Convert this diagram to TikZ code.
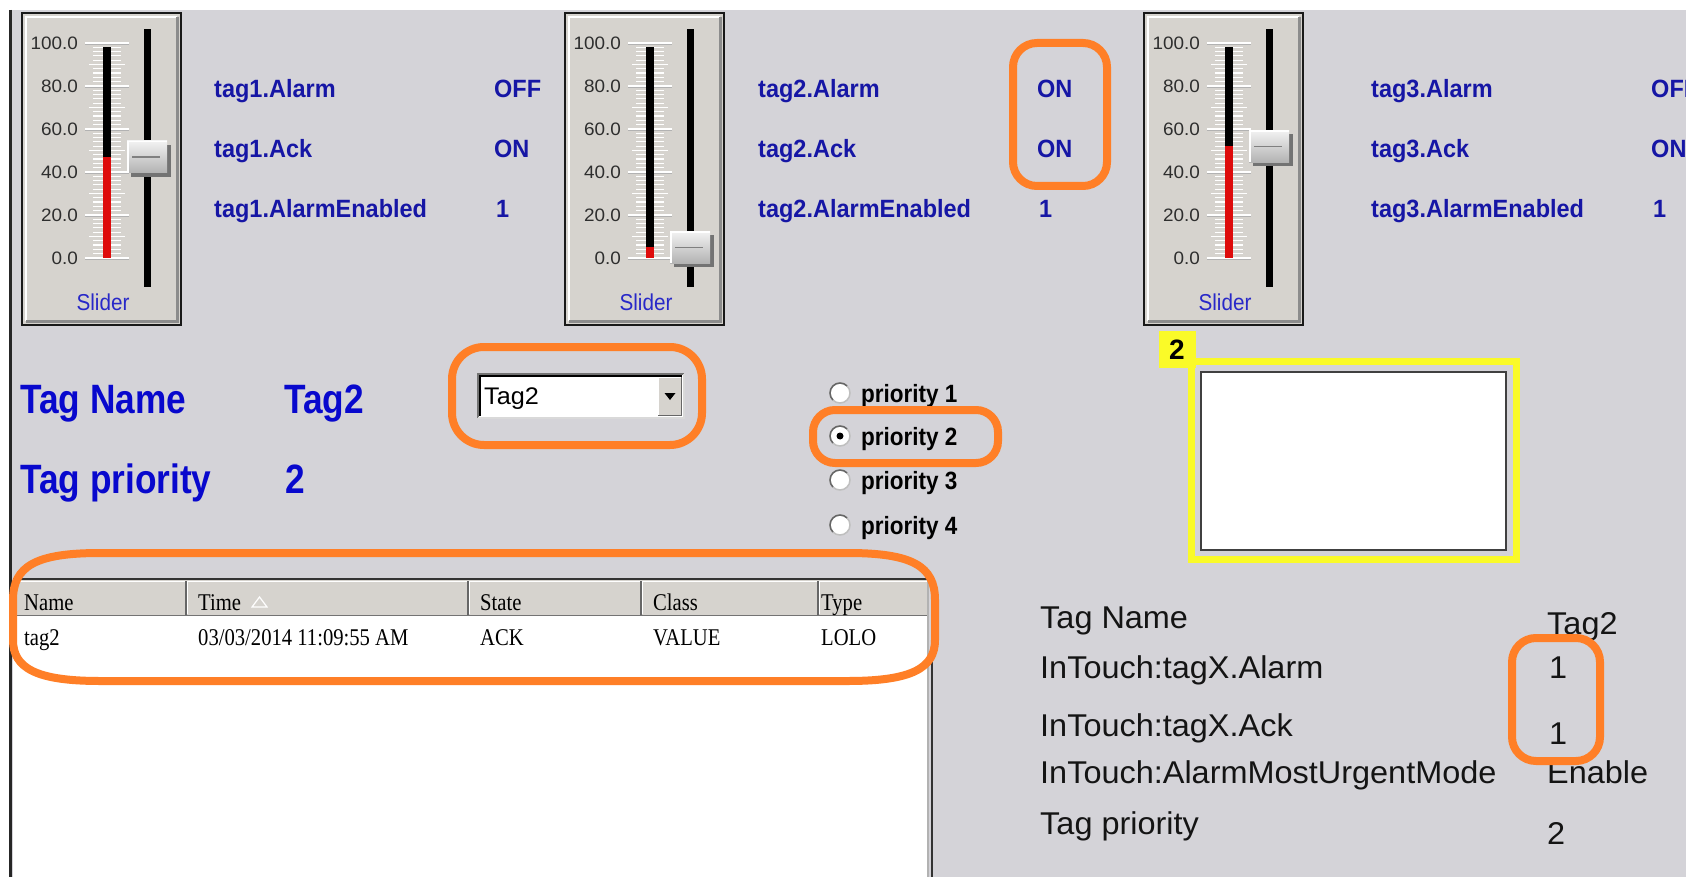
\documentclass[tikz,border=0pt]{standalone}
\usepackage{fontspec}
\setmainfont{Liberation Sans}
\newfontfamily\infofont[FakeStretch=1.03]{Liberation Sans}
\newfontfamily\ticklblfont[FakeStretch=1.05]{Liberation Sans}
\newfontfamily\tagfont[FakeStretch=0.94]{Liberation Sans}
\newfontfamily\narrowfont[FakeStretch=0.9]{Liberation Sans}
\newfontfamily\bignarrowfont[FakeStretch=0.86]{Liberation Sans}
\newfontfamily\alarmfont[FakeStretch=0.86]{Liberation Serif}
\usepackage{tikz}
\definecolor{bggrey}{RGB}{212,211,216}
\definecolor{face}{RGB}{214,211,206}
\definecolor{tagblue}{RGB}{22,22,165}
\definecolor{bigblue}{RGB}{8,8,205}
\definecolor{slidblue}{RGB}{40,40,200}
\definecolor{barred}{RGB}{222,12,12}
\definecolor{hlorange}{RGB}{255,127,39}
\definecolor{hlyellow}{RGB}{250,250,40}
\tikzset{
	taglbl/.style={anchor=west,inner sep=0pt,text=tagblue,text height=18pt,text depth=0pt,font=\tagfont\bfseries\fontsize{25}{30}\selectfont},
	bigtxt/.style={anchor=west,inner sep=0pt,text=bigblue,text height=30pt,text depth=0pt,font=\bignarrowfont\bfseries\fontsize{41}{50}\selectfont},
	ticklbl/.style={anchor=east,inner sep=0pt,text=black!82,text height=13pt,text depth=0pt,font=\ticklblfont\fontsize{18}{22}\selectfont},
	slidlbl/.style={inner sep=0pt,text=slidblue,text height=16.5pt,text depth=0pt,font=\narrowfont\fontsize{23}{28}\selectfont},
	radiotxt/.style={anchor=west,inner sep=0pt,text=black,text height=18pt,text depth=0pt,font=\narrowfont\bfseries\fontsize{25}{30}\selectfont},
	tabtxt/.style={anchor=west,inner sep=0pt,text=black,text height=16pt,text depth=0pt,font=\alarmfont\fontsize{24}{28}\selectfont},
	infotxt/.style={anchor=west,inner sep=0pt,text=black!92,text height=22.5pt,text depth=0pt,font=\infofont\fontsize{31.5}{36}\selectfont},
	hilite/.style={draw=hlorange,line width=8pt,rounded corners=24pt},
}
\begin{document}
\begin{tikzpicture}[x=1pt,y=-1pt]
	\useasboundingbox (0,0) rectangle (1686,877);
	\clip (0,0) rectangle (1686,877);
	\fill[white] (0,0) rectangle (1686,877);
	\fill[bggrey] (12,10) rectangle (1686,877);
	\draw[line width=3pt,black!85] (10.5,10) -- (10.5,877);
	% sliders
	\foreach \bx/\val/\sid in {22/47/a,565/5/b,1144/52/c}{
		\pgfmathsetmacro{\yv}{258-2.15*\val}
		\fill[face] (\bx,13) rectangle (\bx+159,325);
		\draw[white,line width=2pt] (\bx+4,321) -- (\bx+4,17) -- (\bx+155,17);
		\draw[black!45,line width=3pt] (\bx+155,17) -- (\bx+155,321) -- (\bx+4,321);
		\draw[black!90,line width=2.5pt] (\bx,13) rectangle (\bx+159,325);
		\foreach \t in {0,2,...,100}
			\draw[white,line width=1.2pt] (\bx+71,{258-2.15*\t}) -- (\bx+99,{258-2.15*\t});
		\foreach \t in {0,10,...,100}
			\draw[white,line width=1.3pt] (\bx+67,{258-2.15*\t}) -- (\bx+103,{258-2.15*\t});
		\foreach \t in {0,20,...,100}{
			\draw[white,line width=1.6pt] (\bx+63,{258-2.15*\t}) -- (\bx+107,{258-2.15*\t});
			\draw[black!30,line width=0.8pt] (\bx+63,{259.3-2.15*\t}) -- (\bx+107,{259.3-2.15*\t});
			\node[ticklbl] (lbl\sid\t) at (\bx+56,{258-2.15*\t}) {\t.0};
		}
		\fill[black] (\bx+81,47) rectangle (\bx+89,258);
		\fill[barred] (\bx+81,\yv) rectangle (\bx+89,258);
		\fill[black] (\bx+122,29) rectangle (\bx+129,287);
		\fill[black!55] (\bx+109,\yv-12) rectangle (\bx+149,\yv+20);
		\shade[top color=white!95!black,bottom color=black!30] (\bx+105,\yv-16) rectangle (\bx+145,\yv+16);
		\draw[white,line width=1.5pt] (\bx+105.75,\yv+16) -- (\bx+105.75,\yv-15.25) -- (\bx+145,\yv-15.25);
		\draw[black!50,line width=1.2pt] (\bx+110,\yv) -- (\bx+138,\yv);
		\node[slidlbl] (slider\sid) at (\bx+81,302) {Slider};
	}
	% tag values
	\foreach \n/\lx/\vx/\st in {1/214/494/OFF,2/758/1037/ON,3/1371/1651/OFF}{
		\node[taglbl] (alarm\n) at (\lx,89) {tag\n.Alarm};
		\node[taglbl] (alarmv\n) at (\vx,89) {\st};
		\node[taglbl] (ack\n) at (\lx,149) {tag\n.Ack};
		\node[taglbl] (ackv\n) at (\vx,149) {ON};
		\node[taglbl] (enab\n) at (\lx,209) {tag\n.AlarmEnabled};
		\node[taglbl] (enabv\n) at (\vx+2,209) {1};
	}
	\draw[hilite] (1013,43) rectangle (1107,186);
	% tag selection
	\node[bigtxt] (tagname) at (20,398) {Tag Name};
	\node[bigtxt] (tagnamev) at (284,398) {Tag2};
	\node[bigtxt] (tagprio) at (20,478) {Tag priority};
	\node[bigtxt] (tagpriov) at (285,478) {2};
	\fill[white] (478,374) rectangle (684,418);
	\draw[black!55,line width=1.5pt] (478,418) -- (478,374) -- (684,374);
	\draw[black,line width=1.5pt] (480,416) -- (480,376) -- (682,376);
	\draw[white!85!black,line width=1.5pt] (478,418) -- (684,418) -- (684,374);
	\fill[face] (658,377) rectangle (682,416);
	\draw[white,line width=1pt] (658.5,416) -- (658.5,377.5) -- (682,377.5);
	\draw[black!60,line width=1.5pt] (658,415.5) -- (681.5,415.5) -- (681.5,377);
	\fill[black] (664.5,393) -- (675.5,393) -- (670,400) -- cycle;
	\node[anchor=west,inner sep=0pt,text height=17pt,text depth=0pt,font=\ticklblfont\fontsize{24}{28}\selectfont] (combo) at (484,396) {Tag2};
	\draw[hilite,rounded corners=32pt] (452,347) rectangle (702,445);
	\foreach \p/\py in {1/393,2/436,3/480,4/525}{
		\filldraw[fill=white,draw=black!25,line width=1.5pt] (840,\py) circle[radius=10pt];
		\draw[black!60,line width=1.5pt] (840,\py) ++(7.07,-7.07) arc[start angle=45,end angle=225,radius=10pt];
		\node[radiotxt] (prio\p) at (861,\py) {priority \p};
	}
	\fill[black] (840,436) circle[radius=3.5pt];
	\draw[hilite,rounded corners=22pt] (813,410) rectangle (998,463);
	% yellow frame
	\draw[hlyellow,line width=7pt] (1191.5,361.5) rectangle (1516.5,559.5);
	\filldraw[fill=white,draw=black!75,line width=2pt] (1201,372) rectangle (1506,550);
	\fill[hlyellow] (1159,331) rectangle (1196,368);
	\node[inner sep=0pt,text height=20pt,text depth=0pt,font=\bfseries\fontsize{28}{32}\selectfont] (prionum) at (1177,349) {2};
	% alarm table
	\fill[white] (13,616) rectangle (928,877);
	\fill[face] (13,580) rectangle (928,616);
	\draw[black!80,line width=2pt] (13,579) -- (930,579);
	\draw[white,line width=1.2pt] (13,581.5) -- (928,581.5);
	\draw[black!55,line width=1.2pt] (13,615.5) -- (928,615.5);
	\foreach \sx in {186,468,641,818}{
		\draw[black!60,line width=1.5pt] (\sx,581) -- (\sx,615);
		\draw[white,line width=1.5pt] (\sx+1.5,582) -- (\sx+1.5,614);
	}
	\draw[white!70!black,line width=1.5pt] (928,580) -- (928,877);
	\draw[black!80,line width=2.5pt] (932,578) -- (932,877);
	\node[tabtxt] (hname) at (24,602) {Name};
	\node[tabtxt] (htime) at (198,602) {Time};
	\draw[white,line width=1.2pt] (252,607) -- (267,607) -- (259.5,597) -- cycle;
	\node[tabtxt] (hstate) at (480,602) {State};
	\node[tabtxt] (hclass) at (653,602) {Class};
	\node[tabtxt] (htype) at (821,602) {Type};
	\node[tabtxt] (rname) at (24,637) {tag2};
	\node[tabtxt] (rtime) at (198,637) {03/03/2014 11:09:55 AM};
	\node[tabtxt] (rstate) at (480,637) {ACK};
	\node[tabtxt] (rclass) at (653,637) {VALUE};
	\node[tabtxt] (rtype) at (821,637) {LOLO};
	\draw[draw=hlorange,line width=8pt] (100,553) -- (848,553) .. controls (912,553) and (935,566) .. (935,600) -- (935,640) .. controls (935,668) and (912,681) .. (848,681) -- (100,681) .. controls (36,681) and (13,668) .. (13,640) -- (13,600) .. controls (13,566) and (36,553) .. (100,553) -- cycle;
	% status panel
	\node[infotxt] (iname) at (1040,617) {Tag Name};
	\node[infotxt] (ialarm) at (1040,667) {InTouch:tagX.Alarm};
	\node[infotxt] (iack) at (1040,725) {InTouch:tagX.Ack};
	\node[infotxt] (imode) at (1040,772) {InTouch:AlarmMostUrgentMode};
	\node[infotxt] (iprio) at (1040,823) {Tag priority};
	\node[infotxt] (inamev) at (1547,623) {Tag2};
	\node[infotxt] (ialarmv) at (1549,667) {1};
	\node[infotxt] (iackv) at (1549,733) {1};
	\node[infotxt] (imodev) at (1547,772) {Enable};
	\node[infotxt] (ipriov) at (1547,833) {2};
	\draw[hilite] (1512,638) rectangle (1600,761);
\end{tikzpicture}
\end{document}
